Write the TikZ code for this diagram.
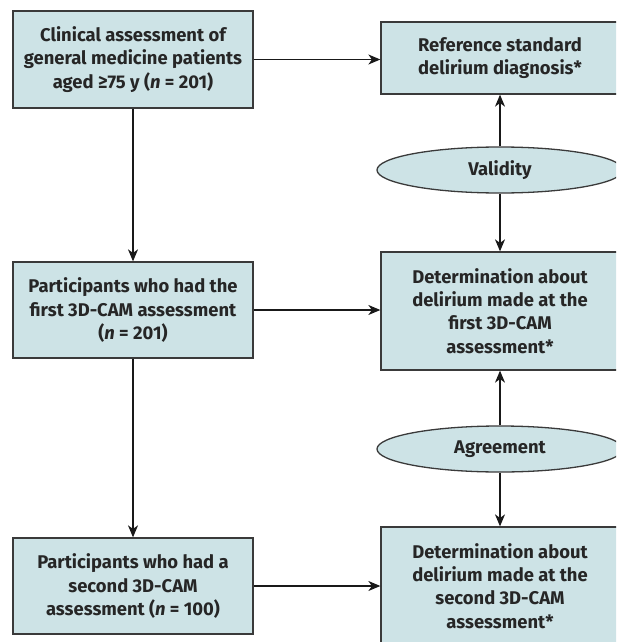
\documentclass[tikz,border=0pt]{standalone}
\usepackage{fontspec}
\setmainfont{Fira Sans}
\usepackage{xcolor}
\definecolor{vizFill}{HTML}{CDE3E6}
\definecolor{vizEdge}{HTML}{3A3A3A}
\usetikzlibrary{shapes.geometric,arrows.meta}

\tikzset{
  flowbox/.style={draw=vizEdge, fill=vizFill, line width=0.65pt, align=center,
    inner sep=0pt, text=black!85, font=\fontsize{9.2}{11.65}\selectfont\bfseries},
  ovalnote/.style={flowbox, ellipse, minimum width=123pt, minimum height=23pt},
  flowarrow/.style={draw=black!90, line width=0.6pt,
    -{Stealth[length=6pt,width=5pt,inset=1.8pt]}}
}

\begin{document}
\begin{tikzpicture}[x=0.5pt,y=-0.5pt]
  \useasboundingbox (0,0) rectangle (616,642);
  \clip (0,0) rectangle (616,642);
  % left column
  \node[flowbox, minimum width=120pt, minimum height=48.5pt] (clin) at (133,59.5)
    {Clinical assessment of\\general medicine patients\\aged ≥75 y (\textit{n} = 201)};
  \node[flowbox, minimum width=120pt, minimum height=48pt] (first) at (133,310)
    {Participants who had the\\first 3D-CAM assessment\\(\textit{n} = 201)};
  \node[flowbox, minimum width=120pt, minimum height=48pt] (second) at (133,586)
    {Participants who had a\\second 3D-CAM\\assessment (\textit{n} = 100)};
  % right column
  \node[flowbox, minimum width=119pt, minimum height=36pt] (refstd) at (500,58)
    {Reference standard\\delirium diagnosis*};
  \node[ovalnote] (valid) at (500,170) {Validity};
  \node[flowbox, minimum width=119pt, minimum height=59pt] (detfirst) at (500,311)
    {Determination about\\delirium made at the\\first 3D-CAM\\assessment*};
  \node[ovalnote] (agree) at (500,449) {Agreement};
  \node[flowbox, minimum width=119pt, minimum height=59pt] (detsecond) at (500,586)
    {Determination about\\delirium made at the\\second 3D-CAM\\assessment*};
  % connectors
  \draw[flowarrow] (clin) -- (first);
  \draw[flowarrow] (first) -- (second);
  \draw[flowarrow] (clin.east) -- (clin.east -| refstd.west);
  \draw[flowarrow] (first) -- (first -| detfirst.west);
  \draw[flowarrow] (second) -- (second -| detsecond.west);
  \draw[flowarrow] (valid) -- (refstd);
  \draw[flowarrow] (valid) -- (detfirst);
  \draw[flowarrow] (agree) -- (detfirst);
  \draw[flowarrow] (agree) -- (detsecond);
\end{tikzpicture}
\end{document}
